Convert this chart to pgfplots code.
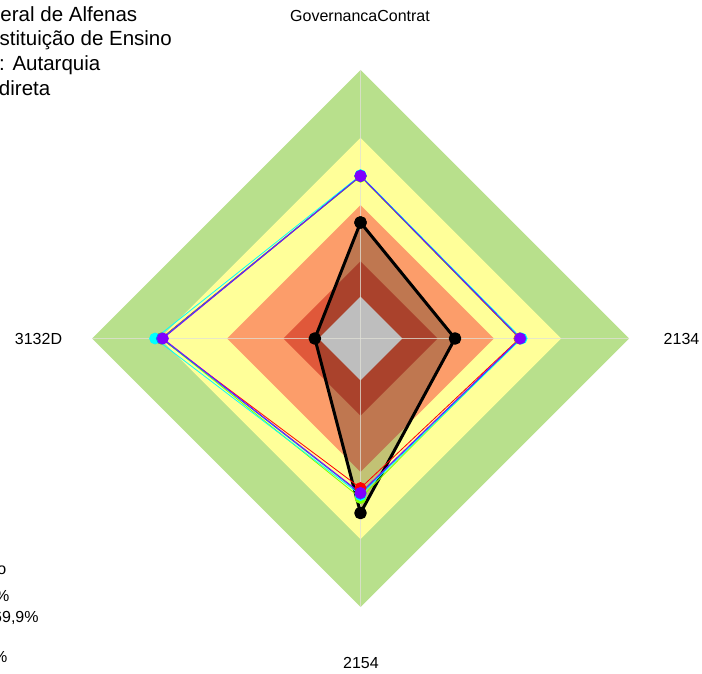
\documentclass[border=0pt]{standalone}
\usepackage{pgfplots}
\pgfplotsset{compat=1.18}
\usepackage{fontspec}
\setmainfont{Liberation Sans}
\definecolor{bgreen}{RGB}{184,224,140}
\definecolor{byellow}{RGB}{255,255,153}
\definecolor{borange}{RGB}{252,157,106}
\definecolor{bred}{RGB}{224,88,58}
\definecolor{bgray}{RGB}{190,190,190}
\definecolor{spoke}{RGB}{225,225,215}
\definecolor{sred}{RGB}{255,0,0}
\definecolor{sgreen}{RGB}{128,255,0}
\definecolor{scyan}{RGB}{0,255,255}
\definecolor{sblue}{RGB}{0,128,255}
\definecolor{spurple}{RGB}{128,0,255}
\begin{document}
\begin{tikzpicture}[x=1pt,y=1pt]
\useasboundingbox (0,0) rectangle (702,673);
\clip (0,0) rectangle (702,673);
\begin{axis}[at={(0,0)}, anchor=south west, width=702pt, height=673pt,
  scale only axis, hide axis,
  xmin=-134.27, xmax=127.19, ymin=-124.58, ymax=126.07, clip=false]
% bands
\addplot[draw=none, fill=bgreen] coordinates {(0,100) (100,0) (0,-100) (-100,0)};
\addplot[draw=none, fill=byellow] coordinates {(0,74.7) (74.7,0) (0,-74.7) (-74.7,0)};
\addplot[draw=none, fill=borange] coordinates {(0,49.7) (49.7,0) (0,-49.7) (-49.7,0)};
\addplot[draw=none, fill=bred] coordinates {(0,28.7) (28.7,0) (0,-28.7) (-28.7,0)};
% black series fill
\addplot[draw=none, fill=black, fill opacity=0.24] coordinates {(0,43.2) (35.2,0) (0,-65.0) (-17.0,0)};
% gray centre
\addplot[draw=none, fill=bgray] coordinates {(0,15.6) (15.6,0) (0,-15.6) (-15.6,0)};
% spokes
\addplot[spoke, line width=1.5pt, opacity=0.75] coordinates {(0,100) (0,-100)};
\addplot[spoke, line width=1.5pt, opacity=0.75] coordinates {(-100,0) (100,0)};
% black series
\addplot[black, line width=3pt, line join=round, mark=*, mark size=4.8pt, mark options={solid, fill=black}]
  coordinates {(0,43.2) (35.2,0) (0,-65.0) (-17.0,0) (0,43.2)};
% colored series
\addplot[sred, line width=0.8pt, mark=*, mark size=5.5pt, mark options={draw=sred, fill=sred}]
  coordinates {(0,60.5) (59.2,0) (0,-55.7) (-74.3,0) (0,60.5)};
\addplot[sgreen, line width=0.8pt, mark=*, mark size=5.5pt, mark options={draw=sgreen, fill=sgreen}]
  coordinates {(0,60.3) (59.3,0) (0,-59.4) (-74.0,0) (0,60.3)};
\addplot[scyan, line width=0.8pt, mark=*, mark size=5.5pt, mark options={draw=scyan, fill=scyan}]
  coordinates {(0,60.8) (60.0,0) (0,-58.3) (-76.5,0) (0,60.8)};
\addplot[sblue, line width=0.8pt, mark=*, mark size=5.5pt, mark options={draw=sblue, fill=sblue}]
  coordinates {(0,60.6) (59.6,0) (0,-57.8) (-74.0,0) (0,60.6)};
\addplot[spurple, line width=0.8pt, mark=*, mark size=5.5pt, mark options={draw=spurple, fill=spurple}]
  coordinates {(0,60.5) (59.4,0) (0,-57.5) (-73.6,0) (0,60.5)};
\end{axis}
% axis labels
\begin{scope}[every node/.style={inner sep=0pt, font=\fontsize{16}{19}\selectfont}]
\node[anchor=base] at (360,651) {GovernancaContrat};
\node[anchor=base] at (38.5,328) {3132D};
\node[anchor=base] at (681.5,328) {2134};
\node[anchor=base] at (361,5) {2154};
% legend (cut off)
\node[anchor=base east] at (6.5,99) {Desempenho};
\node[anchor=base east] at (9.5,72) {Acima de 70\%};
\node[anchor=base east] at (38.8,51) {Entre 40\% e 69,9\%};
\node[anchor=base east] at (7.5,11) {Abaixo de 40\%};
\end{scope}
% title (cut off)
\begin{scope}[every node/.style={inner sep=0pt, anchor=base east, font=\fontsize{20.5}{24}\selectfont}]
\node at (137.5,651.5) {Universidade Federal de Alfenas};
\node at (172,627) {Tipo: Instituição de Ensino};
\node at (100.5,602) {Natureza Jurídica: Autarquia};
\node at (50.5,577.5) {Administração Indireta};
\end{scope}
\end{tikzpicture}
\end{document}
